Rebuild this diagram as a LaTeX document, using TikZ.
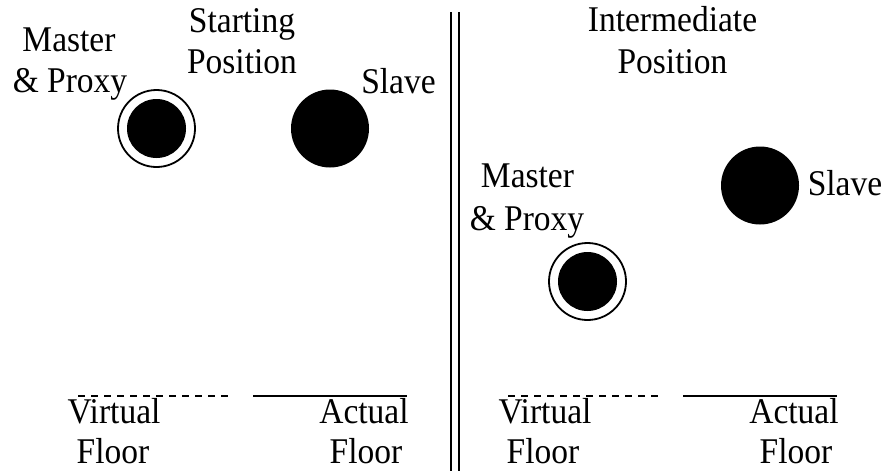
\documentclass[tikz,border=0pt]{standalone}
\usepackage{graphicx}
\usepackage{fontspec}
\setmainfont{Liberation Serif}
\newcommand\talltext[1]{\scalebox{1}[1.08]{#1}}
\begin{document}
\begin{tikzpicture}[x=1pt,y=-1pt,
  lbl/.style={anchor=base,inner sep=0pt,font=\fontsize{33.5}{36}\selectfont},
  ball/.style={circle,fill=black,inner sep=0pt,minimum size=#1},
  ring/.style={circle,draw=black,line width=1.8pt,inner sep=0pt,minimum size=77pt},
  vfloor/.style={line width=1.4pt,dash pattern=on 7pt off 6pt},
  afloor/.style={line width=1.6pt},
  divider/.style={line width=2pt}]
\useasboundingbox (0,0) rectangle (888,475);
% left panel
\node[lbl] (m1a) at (69,51) {\talltext{Master}};
\node[lbl] (m1b) at (70,92) {\talltext{\& Proxy}};
\node[lbl] (s1a) at (242,32) {\talltext{Starting}};
\node[lbl] (s1b) at (242,73) {\talltext{Position}};
\node[lbl] (sl1) at (398.5,93) {\talltext{Slave}};
\node[ring] (r1) at (156.5,128.5) {};
\node[ball=59pt] (b1) at (156.5,128.5) {};
\node[ball=78pt] (b2) at (330,128.5) {};
% right panel
\node[lbl] (i2a) at (672.5,31) {\talltext{Intermediate}};
\node[lbl] (i2b) at (672.5,73) {\talltext{Position}};
\node[lbl] (m2a) at (527.5,187) {\talltext{Master}};
\node[lbl] (m2b) at (527,230) {\talltext{\& Proxy}};
\node[lbl] (sl2) at (845,195) {\talltext{Slave}};
\node[ring] (r3) at (587.5,281.5) {};
\node[ball=59pt] (b3) at (587.5,281.5) {};
\node[ball=78pt] (b4) at (760,185.5) {};
% divider
\coordinate (d1t) at (451,12); \coordinate (d1b) at (451,471);
\coordinate (d2t) at (458.5,12); \coordinate (d2b) at (458.5,471);
\draw[divider] (d1t) -- (d1b);
\draw[divider] (d2t) -- (d2b);
% floors left
\coordinate (vl1) at (78,396); \coordinate (vl2) at (233,396);
\coordinate (al1) at (253,396); \coordinate (al2) at (407,396);
\draw[vfloor] (vl1) -- (vl2);
\draw[afloor] (al1) -- (al2);
\node[lbl] (v1a) at (114,423) {\talltext{Virtual}};
\node[lbl] (v1b) at (113,463) {\talltext{Floor}};
\node[lbl] (a1a) at (364,423) {\talltext{Actual}};
\node[lbl] (a1b) at (366,463) {\talltext{Floor}};
% floors right
\coordinate (vr1) at (508,396); \coordinate (vr2) at (663,396);
\coordinate (ar1) at (683,396); \coordinate (ar2) at (837,396);
\draw[vfloor] (vr1) -- (vr2);
\draw[afloor] (ar1) -- (ar2);
\node[lbl] (v2a) at (545,423) {\talltext{Virtual}};
\node[lbl] (v2b) at (543,463) {\talltext{Floor}};
\node[lbl] (a2a) at (794,423) {\talltext{Actual}};
\node[lbl] (a2b) at (796,463) {\talltext{Floor}};
\end{tikzpicture}
\end{document}
